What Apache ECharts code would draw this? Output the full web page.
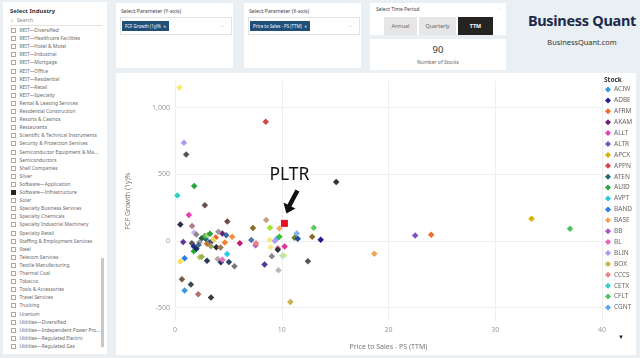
<!DOCTYPE html>
<html><head><meta charset="utf-8">
<script src="https://cdn.jsdelivr.net/npm/echarts@6/dist/echarts.min.js"></script>
<style>
html,body{margin:0;padding:0;width:640px;height:358px;overflow:hidden;background:#eaeff3;font-family:"Segoe UI","Noto Sans","Open Sans",sans-serif;}
.p{position:absolute;background:#fff;}
.t{position:absolute;white-space:nowrap;}
#left .it{position:absolute;left:8px;font-size:4.9px;color:#6a6a6a;white-space:nowrap;line-height:6px;}
#left .cb{display:inline-block;width:5px;height:5px;border:0.6px solid #a8a8a8;margin-right:3.5px;vertical-align:-1px;box-sizing:border-box;}
#left .cb.on{background:#252423;border-color:#252423;}
.chip{position:absolute;background:#1f4e79;color:#fff;font-size:4.4px;line-height:10px;height:10px;padding:0 3px;white-space:nowrap;}
.btn{position:absolute;top:14px;height:18px;line-height:18px;text-align:center;font-size:5.4px;background:#e6e6e6;color:#666;}
</style></head><body>
<div class="p" id="left" style="left:3px;top:2px;width:104px;height:352px;">
  <div class="t" style="left:7px;top:5px;font-size:6px;font-weight:bold;color:#333;">Select Industry</div>
  <div class="t" style="left:8px;top:14px;font-size:5.2px;color:#888;">&#x2315;&nbsp;&nbsp;Search</div>
  <div style="position:absolute;left:7px;top:23px;width:92px;height:0.6px;background:#e2e2e2;"></div>
  <div id="list"></div>
  <div style="position:absolute;left:98px;top:256px;width:3px;height:89px;background:#c8c8c8;"></div>
</div>
<div class="p" style="left:116px;top:3px;width:117px;height:65px;">
  <div class="t" style="left:5px;top:4px;font-size:5.2px;color:#444;">Select Parameter (Y-axis)</div>
  <div style="position:absolute;left:4px;top:14px;width:112px;height:18px;border:0.6px solid #e3e3e3;box-sizing:border-box;"></div>
  <div class="chip" style="left:6px;top:18px;">FCF Growth (1y)%&nbsp;&nbsp;✕</div>
  <div class="t" style="left:104px;top:18px;font-size:6px;color:#aaa;">&#x2335;</div>
</div>
<div class="p" style="left:244px;top:3px;width:117px;height:65px;">
  <div class="t" style="left:5px;top:4px;font-size:5.2px;color:#444;">Select Parameter (X-axis)</div>
  <div style="position:absolute;left:4px;top:14px;width:112px;height:18px;border:0.6px solid #e3e3e3;box-sizing:border-box;"></div>
  <div class="chip" style="left:6px;top:18px;">Price to Sales - PS (TTM)&nbsp;&nbsp;✕</div>
  <div class="t" style="left:104px;top:18px;font-size:6px;color:#aaa;">&#x2335;</div>
</div>
<div class="p" style="left:370px;top:3px;width:136px;height:32px;">
  <div class="t" style="left:6px;top:3px;font-size:5px;color:#444;">Select Time Period</div>
  <div class="t" style="left:127px;top:2px;font-size:5px;color:#aaa;">&#x2335;</div>
  <div class="btn" style="left:14px;width:33px;">Annual</div>
  <div class="btn" style="left:49px;width:37px;">Quarterly</div>
  <div class="btn" style="left:88px;width:35px;background:#252423;color:#fff;font-weight:bold;">TTM</div>
</div>
<div class="p" style="left:370px;top:39px;width:136px;height:31px;">
  <div class="t" style="left:0;width:136px;text-align:center;top:4px;font-size:9.5px;color:#333;">90</div>
  <div class="t" style="left:0;width:136px;text-align:center;top:20px;font-size:5px;color:#666;">Number of Stocks</div>
</div>
<div class="t" style="left:524px;top:10px;width:116px;text-align:center;font-size:14.5px;font-weight:bold;color:#1b2a4a;letter-spacing:-0.3px;">Business Quant</div>
<div class="t" style="left:524px;top:37px;width:116px;text-align:center;font-size:7.4px;color:#333;">BusinessQuant.com</div>
<div class="p" id="chart" style="left:116px;top:73px;width:520px;height:282px;"></div>
<script>
// ---- dashboard list ----
const industries = ["REIT—Diversified","REIT—Healthcare Facilities","REIT—Hotel & Motel","REIT—Industrial","REIT—Mortgage","REIT—Office","REIT—Residential","REIT—Retail","REIT—Specialty","Rental & Leasing Services","Residential Construction","Resorts & Casinos","Restaurants","Scientific & Technical Instruments","Security & Protection Services","Semiconductor Equipment & Ma...","Semiconductors","Shell Companies","Silver","Software—Application","Software—Infrastructure","Solar","Specialty Business Services","Specialty Chemicals","Specialty Industrial Machinery","Specialty Retail","Staffing & Employment Services","Steel","Telecom Services","Textile Manufacturing","Thermal Coal","Tobacco","Tools & Accessories","Travel Services","Trucking","Uranium","Utilities—Diversified","Utilities—Independent Power Pro...","Utilities—Regulated Electric","Utilities—Regulated Gas"];
const selectedIndustry = "Software—Infrastructure";
(function(){
  const list = document.getElementById('list');
  industries.forEach((n,i)=>{
    const d=document.createElement('div'); d.className='it';
    d.style.top=(25+i*8.1)+'px';
    d.innerHTML='<span class="cb'+(n===selectedIndustry?' on':'')+'"></span>'+n.replace(/&/g,'&amp;');
    list.appendChild(d);
  });
})();

// ---- chart data ----
const tickers = ["ACIW","ADBE","AFRM","AKAM","ALLT","ALTR","APCX","APPN","ATEN","AUID","AVPT","BAND","BASE","BB","BL","BLIN","BOX","CCCS","CETX","CFLT","CGNT",
"CHKP","CISO","CLBT","CLSK","CRWD","CSGS","CVLT","CYBR","DBX","DOCN","DOX","DTSS","EEFT","EVTC","EXFY","FFIV","FLYW","FOUR","FTNT","GB","GDDY","GDS","GEN","HCP","IDN","INFA","INTZ","IOT","JAMF","MARA","MDB","MQ","MSFT","NET","NTCT","NTNX","NYAX","OKTA","ORCL","PANW","PATH","PAYO","PLTR","PRGS","QLYS","RDWR","RELY","RIOT","RPD","S","SAIL","SNPS","SPLK","SQ","SQSP","SWI","TENB","TLS","TOST","VERB","VRNS","VRSN","WEX","XPER","YEXT","ZS","ZUO","ZETA","ZI"];
const priceToSales = [0.9,13.65,24.0,4.43,1.3,22.5,33.4,8.5,2.88,1.8,4.88,0.9,18.67,7.55,9.63,0.84,10.8,7.59,0.22,37.0,9.54,
2.8,0.5,1.6,4.9,8.54,7.3,8.9,9.78,13.0,11.4,11.2,11.5,12.85,0.77,1.8,2.0,1.58,2.5,2.8,3.03,3.28,3.19,3.5,4.06,3.81,4.8,4.67,5.36,6.07,7.15,8.88,9.35,9.78,8.95,9.63,10.27,10.06,10.19,9.07,8.39,9.69,12.45,10.25,0.5,1.76,1.76,2.0,2.32,2.5,3.0,4.0,4.3,4.43,5.05,5.57,3.87,4.27,3.37,0.65,1.49,2.17,3.37,0.43,1.05,15.1,2.3,3.6,2.2,3.0];
const fcfGrowth = [-372,10,47,56,195,42,167,895,15,412,-97,-130,-96,-32,-54,737,-458,-17,341,91,17,
268,123,112,147,157,98,100,93,100,56,24,17,32,-7,64,49,-17,20,37,44,54,-12,2,69,27,44,-12,32,-17,7,7,0,32,-47,-66,-42,-110,-108,-115,-176,-220,-152,132,-154,-42,-76,-59,-122,-118,-149,-135,-159,-140,-157,-189,-47,-49,-39,-287,-326,-399,-424,1152,649,443,-10,10,-30,-20];
const stockColors = ["#3599e6","#1f1f8f","#f26b2b","#6b1f7a","#e93fb5","#7a55c2","#d6b400","#d9434a","#1f6b73","#2aa33b","#2ac7ea","#2e7de6","#f5a055","#b054c8","#e862b5","#a99cf2","#c9b24a","#f08080","#2dd4c4","#4bc45a","#5aa8f0",
"#6b4e4e","#2b2b4a","#b07c80","#6e4a4a","#c4a08a","#8a6a2a","#a6e22e","#f7a86a","#5ccb5c","#7fb2f0","#6b7a2a","#2050a0","#8a6a2a","#5a3a9a","#c6b6f2","#8a8a8a","#555555","#2a5a3a","#3cb043","#9ad27a","#2ca02c","#3070b0","#5a2a6a","#999999","#f05a28","#3a6a9a","#f08030","#f59040","#c0206a","#4a7ab0","#f2ec80","#b0a0f0","#30c030","#f5e88a","#333333","#e0309a","#a0e0f0","#c8e880","#888888","#4a3aa0","#b8b8b8","#555555","#e81123","#f5e050","#2a2a8a","#22b022","#1a2a6a","#b8d060","#a0b050","#2a3a5a","#c0a0a0","#1a3a6a","#e070c0","#2a4a6a","#777777","#2a2a2a","#9a7a5a","#a0a060","#7a5a3a","#3a4a5a","#b07070","#3a3a3a","#f8ec6a","#555555","#333333","#9a9a9a","#e0e060","#4a6a8a","#c07030"];
const yTicks = [-500,0,500,1000];
const legendCount = 21;
const highlighted = "PLTR";

const chart = echarts.init(document.getElementById('chart'));
const series = tickers.map((t,i)=>({
  type:'scatter', name:t, data:[[priceToSales[i], fcfGrowth[i]]],
  symbol: t===highlighted ? 'rect' : 'diamond',
  symbolSize: t===highlighted ? 7 : 6.5,
  itemStyle:{color:stockColors[i], opacity:1},
  z: t===highlighted ? 5 : 2,
  emphasis:{disabled:true}
}));
const FONT = '"Segoe UI","Noto Sans","Open Sans",sans-serif';
chart.setOption({
  animation:false,
  textStyle:{fontFamily:FONT},
  title:{text:'Stock', left:488, top:4, padding:0, textStyle:{fontSize:6.5, fontWeight:'bold', color:'#333', fontFamily:FONT}},
  legend:{orient:'vertical', left:489, top:13, itemGap:3.9, itemWidth:6, itemHeight:6, padding:0,
    icon:'diamond', data:tickers.slice(0,legendCount),
    textStyle:{fontSize:6.5, color:'#666', lineHeight:7, padding:[0,0,0,-2], fontFamily:FONT}},
  grid:{left:56, top:8, width:430, height:244},
  xAxis:{type:'value', min:0, max:40, interval:10, name:'Price to Sales - PS (TTM)', nameLocation:'middle', nameGap:22,
    nameTextStyle:{fontSize:7, color:'#777'},
    axisLine:{show:false}, axisTick:{show:false},
    axisLabel:{fontSize:7, color:'#999', margin:5},
    splitLine:{lineStyle:{color:'#eeeeee', width:1}}},
  yAxis:{type:'value', min:-600, max:1200, name:'FCF Growth (1y)%', nameLocation:'middle', nameGap:44,
    nameTextStyle:{fontSize:7, color:'#777'},
    axisLine:{show:false}, axisTick:{show:false, customValues:yTicks},
    axisLabel:{fontSize:7, color:'#999', margin:5, customValues:yTicks,
      formatter:v=>v.toLocaleString('en-US')},
    splitLine:{lineStyle:{color:'#eeeeee', width:1}}},
  series:series
});
// annotation anchored to the highlighted point
const hi = tickers.indexOf(highlighted);
const p = chart.convertToPixel({gridIndex:0}, [priceToSales[hi], fcfGrowth[hi]]);
chart.setOption({graphic:[
  {type:'text', left:p[0]-15, top:p[1]-57, style:{text:highlighted, fontSize:17.5, fill:'#111', fontFamily:FONT}},
  {type:'polygon', shape:{points:[
    [p[0]+11,p[1]-34],[p[0]+15,p[1]-32],[p[0]+7,p[1]-17],[p[0]+11,p[1]-15],[p[0]+2,p[1]-10],[p[0]-1,p[1]-21],[p[0]+3,p[1]-19]
  ]}, style:{fill:'#111'}},
  {type:'text', left:502, top:261, style:{text:'▼', fontSize:6, fill:'#222'}}
]});
</script>
</body></html>
